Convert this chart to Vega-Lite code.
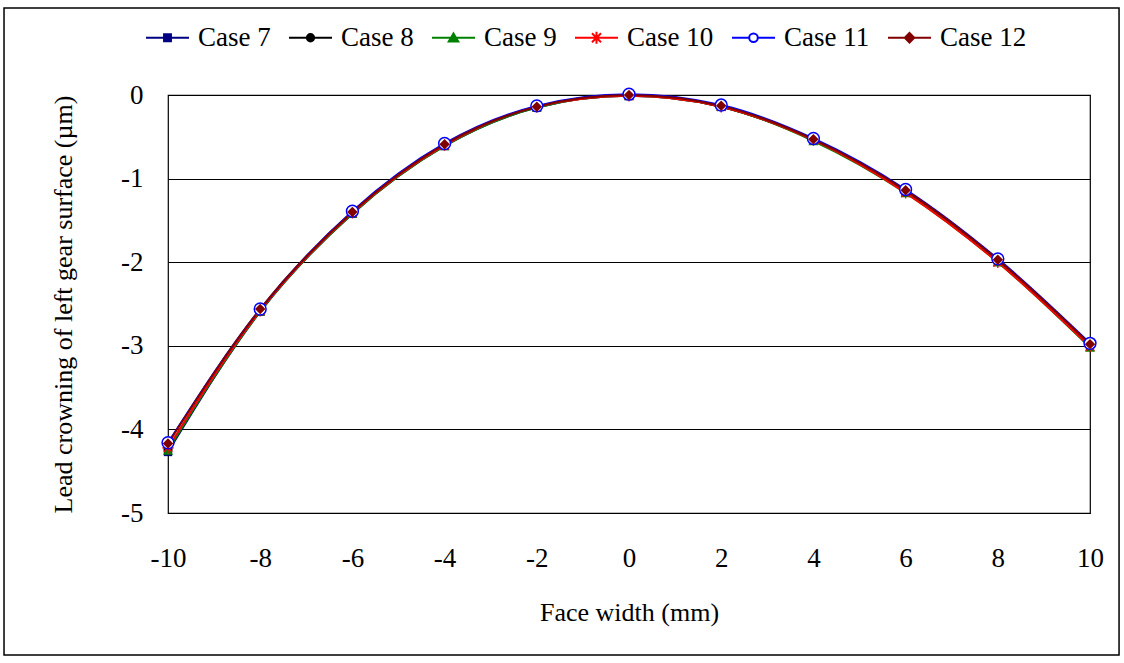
{
  "$schema": "https://vega.github.io/schema/vega-lite/v6.json",
  "width": 922,
  "height": 418,
  "autosize": "none",
  "padding": {"left": 168, "top": 95, "right": 34, "bottom": 150},
  "background": "white",
  "config": {
    "font": "'Liberation Serif', 'DejaVu Serif', serif",
    "view": {"stroke": "black", "strokeWidth": 1.2},
    "axis": {"labelFont": "'Liberation Serif', 'DejaVu Serif', serif", "titleFont": "'Liberation Serif', 'DejaVu Serif', serif", "labelColor": "black", "titleColor": "black", "labelFontSize": 27, "titleFontSize": 26, "titleFontWeight": "normal", "domain": false, "ticks": false, "labelFlush": false},
    "legend": {"labelFont": "'Liberation Serif', 'DejaVu Serif', serif", "titleFont": "'Liberation Serif', 'DejaVu Serif', serif"}
  },
  "datasets": {
    "frame": [{"x1": -13.557, "x2": 10.63, "y1": 1.04, "y2": -6.70}],
    "pts": [
      {"case": "Case 7", "x": -10, "y": -4.27}, {"case": "Case 7", "x": -8, "y": -2.59}, {"case": "Case 7", "x": -6, "y": -1.42}, {"case": "Case 7", "x": -4, "y": -0.61}, {"case": "Case 7", "x": -2, "y": -0.15}, {"case": "Case 7", "x": 0, "y": -0.01}, {"case": "Case 7", "x": 2, "y": -0.14}, {"case": "Case 7", "x": 4, "y": -0.54}, {"case": "Case 7", "x": 6, "y": -1.16}, {"case": "Case 7", "x": 8, "y": -1.99}, {"case": "Case 7", "x": 10, "y": -3.01},
      {"case": "Case 8", "x": -10, "y": -4.24}, {"case": "Case 8", "x": -8, "y": -2.58}, {"case": "Case 8", "x": -6, "y": -1.41}, {"case": "Case 8", "x": -4, "y": -0.60}, {"case": "Case 8", "x": -2, "y": -0.14}, {"case": "Case 8", "x": 0, "y": 0.0}, {"case": "Case 8", "x": 2, "y": -0.14}, {"case": "Case 8", "x": 4, "y": -0.54}, {"case": "Case 8", "x": 6, "y": -1.16}, {"case": "Case 8", "x": 8, "y": -1.99}, {"case": "Case 8", "x": 10, "y": -3.0},
      {"case": "Case 9", "x": -10, "y": -4.25}, {"case": "Case 9", "x": -8, "y": -2.59}, {"case": "Case 9", "x": -6, "y": -1.42}, {"case": "Case 9", "x": -4, "y": -0.61}, {"case": "Case 9", "x": -2, "y": -0.15}, {"case": "Case 9", "x": 0, "y": -0.01}, {"case": "Case 9", "x": 2, "y": -0.14}, {"case": "Case 9", "x": 4, "y": -0.55}, {"case": "Case 9", "x": 6, "y": -1.17}, {"case": "Case 9", "x": 8, "y": -2.0}, {"case": "Case 9", "x": 10, "y": -3.02},
      {"case": "Case 10", "x": -10, "y": -4.22}, {"case": "Case 10", "x": -8, "y": -2.58}, {"case": "Case 10", "x": -6, "y": -1.41}, {"case": "Case 10", "x": -4, "y": -0.60}, {"case": "Case 10", "x": -2, "y": -0.14}, {"case": "Case 10", "x": 0, "y": -0.01}, {"case": "Case 10", "x": 2, "y": -0.14}, {"case": "Case 10", "x": 4, "y": -0.54}, {"case": "Case 10", "x": 6, "y": -1.17}, {"case": "Case 10", "x": 8, "y": -2.0}, {"case": "Case 10", "x": 10, "y": -3.01},
      {"case": "Case 11", "x": -10, "y": -4.16}, {"case": "Case 11", "x": -8, "y": -2.56}, {"case": "Case 11", "x": -6, "y": -1.39}, {"case": "Case 11", "x": -4, "y": -0.58}, {"case": "Case 11", "x": -2, "y": -0.13}, {"case": "Case 11", "x": 0, "y": 0.01}, {"case": "Case 11", "x": 2, "y": -0.12}, {"case": "Case 11", "x": 4, "y": -0.52}, {"case": "Case 11", "x": 6, "y": -1.13}, {"case": "Case 11", "x": 8, "y": -1.96}, {"case": "Case 11", "x": 10, "y": -2.97},
      {"case": "Case 12", "x": -10, "y": -4.17}, {"case": "Case 12", "x": -8, "y": -2.56}, {"case": "Case 12", "x": -6, "y": -1.40}, {"case": "Case 12", "x": -4, "y": -0.59}, {"case": "Case 12", "x": -2, "y": -0.14}, {"case": "Case 12", "x": 0, "y": 0.0}, {"case": "Case 12", "x": 2, "y": -0.13}, {"case": "Case 12", "x": 4, "y": -0.53}, {"case": "Case 12", "x": 6, "y": -1.14}, {"case": "Case 12", "x": 8, "y": -1.97}, {"case": "Case 12", "x": 10, "y": -2.98}
    ]
  },
  "layer": [
    {
      "data": {"name": "frame"},
      "mark": {"type": "rect", "fill": null, "stroke": "black", "strokeWidth": 1.5, "clip": false},
      "encoding": {
        "x": {"field": "x1", "type": "quantitative"},
        "x2": {"field": "x2"},
        "y": {"field": "y1", "type": "quantitative"},
        "y2": {"field": "y2"}
      }
    },
    {
      "data": {"name": "pts"},
      "mark": {"type": "line", "interpolate": "monotone", "strokeWidth": 2},
      "encoding": {
        "x": {
          "field": "x", "type": "quantitative",
          "scale": {"domain": [-10, 10], "nice": false, "zero": false},
          "axis": {"values": [-10, -8, -6, -4, -2, 0, 2, 4, 6, 8, 10], "grid": false, "labelPadding": 32, "labelFlush": false, "labelExpr": "'' + datum.value", "title": "Face width (mm)", "titlePadding": 28}
        },
        "y": {
          "field": "y", "type": "quantitative",
          "scale": {"domain": [-5, 0], "nice": false, "zero": false},
          "axis": {"values": [-5, -4, -3, -2, -1, 0], "grid": true, "gridColor": "black", "gridOpacity": 1, "gridWidth": 1.2, "labelPadding": 25, "labelFlush": false, "labelExpr": "'' + datum.value", "title": "Lead crowning of left gear surface (µm)", "titlePadding": 44}
        },
        "color": {
          "field": "case", "type": "nominal",
          "scale": {"domain": ["Case 7", "Case 8", "Case 9", "Case 10", "Case 11", "Case 12"], "range": ["#000080", "#000000", "#008000", "#FF0000", "#0000FF", "#800000"]},
          "legend": {
            "title": null, "orient": "none", "direction": "horizontal", "columns": 6,
            "legendX": -23, "legendY": -80, "padding": 0,
            "symbolSize": 1849, "labelFontSize": 27, "labelFont": "'Liberation Serif', 'DejaVu Serif', serif", "labelColor": "black", "labelOffset": 8, "columnPadding": 14,
            "encode": {
              "symbols": {
                "update": {
                  "shape": {"signal": "datum.value==='Case 7' ? 'M-1,0L1,0M-0.16,-0.16L0.16,-0.16L0.16,0.16L-0.16,0.16Z' : datum.value==='Case 8' ? 'M-1,0L1,0M0.17,0A0.17,0.17,0,1,1,-0.17,0A0.17,0.17,0,1,1,0.17,0Z' : datum.value==='Case 9' ? 'M-1,0L1,0M0,-0.2L0.22,0.17L-0.22,0.17Z' : datum.value==='Case 10' ? 'M-1,0L1,0M0,-0.28L0,0.28M-0.21,-0.21L0.21,0.21M-0.21,0.21L0.21,-0.21' : datum.value==='Case 11' ? 'M-1,0L-0.2,0M0.2,0L1,0M0.2,0A0.2,0.2,0,1,1,-0.2,0A0.2,0.2,0,1,1,0.2,0Z' : 'M-1,0L1,0M0,-0.22L0.22,0L0,0.22L-0.22,0Z'"},
                  "fill": {"signal": "datum.value==='Case 7' ? '#000080' : datum.value==='Case 8' ? '#000000' : datum.value==='Case 9' ? '#008000' : datum.value==='Case 10' ? 'transparent' : datum.value==='Case 11' ? '#FFFFFF' : '#800000'"},
                  "stroke": {"signal": "datum.value==='Case 7' ? '#000080' : datum.value==='Case 8' ? '#000000' : datum.value==='Case 9' ? '#008000' : datum.value==='Case 10' ? '#FF0000' : datum.value==='Case 11' ? '#0000FF' : '#800000'"},
                  "strokeWidth": {"value": 2},
                  "opacity": {"value": 1}
                }
              }
            }
          }
        }
      }
    },
    {
      "data": {"name": "pts"},
      "transform": [{"filter": "datum.case === 'Case 7'"}],
      "mark": {"type": "point", "shape": "square", "size": 70, "filled": true, "color": "#000080", "opacity": 1},
      "encoding": {"x": {"field": "x", "type": "quantitative"}, "y": {"field": "y", "type": "quantitative"}}
    },
    {
      "data": {"name": "pts"},
      "transform": [{"filter": "datum.case === 'Case 8'"}],
      "mark": {"type": "point", "shape": "circle", "size": 80, "filled": true, "color": "#000000", "opacity": 1},
      "encoding": {"x": {"field": "x", "type": "quantitative"}, "y": {"field": "y", "type": "quantitative"}}
    },
    {
      "data": {"name": "pts"},
      "transform": [{"filter": "datum.case === 'Case 9'"}],
      "mark": {"type": "point", "shape": "triangle-up", "size": 100, "filled": true, "color": "#008000", "opacity": 1},
      "encoding": {"x": {"field": "x", "type": "quantitative"}, "y": {"field": "y", "type": "quantitative"}}
    },
    {
      "data": {"name": "pts"},
      "transform": [{"filter": "datum.case === 'Case 10'"}],
      "mark": {"type": "point", "shape": "M-1,0L1,0M0,-1L0,1M-0.75,-0.75L0.75,0.75M-0.75,0.75L0.75,-0.75", "size": 130, "filled": false, "stroke": "#FF0000", "strokeWidth": 1.3, "opacity": 1},
      "encoding": {"x": {"field": "x", "type": "quantitative"}, "y": {"field": "y", "type": "quantitative"}}
    },
    {
      "data": {"name": "pts"},
      "transform": [{"filter": "datum.case === 'Case 11'"}],
      "mark": {"type": "point", "shape": "circle", "size": 140, "filled": false, "fill": "#FFFFFF", "stroke": "#0000FF", "strokeWidth": 1.5, "opacity": 1},
      "encoding": {"x": {"field": "x", "type": "quantitative"}, "y": {"field": "y", "type": "quantitative"}}
    },
    {
      "data": {"name": "pts"},
      "transform": [{"filter": "datum.case === 'Case 12'"}],
      "mark": {"type": "point", "shape": "diamond", "size": 110, "filled": true, "color": "#800000", "opacity": 1},
      "encoding": {"x": {"field": "x", "type": "quantitative"}, "y": {"field": "y", "type": "quantitative"}}
    }
  ]
}
